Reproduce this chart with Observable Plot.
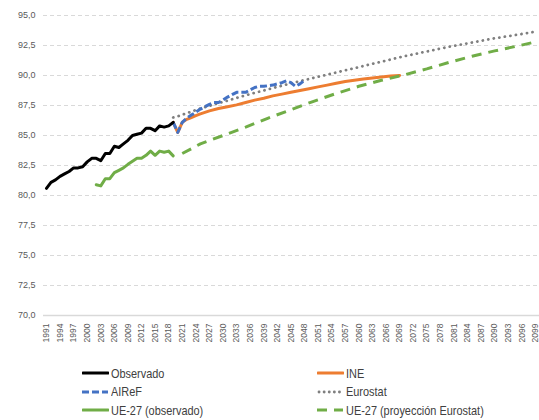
<!DOCTYPE html>
<html>
<head>
<meta charset="utf-8">
<script src="https://cdn.jsdelivr.net/npm/d3@7"></script>
<script src="https://cdn.jsdelivr.net/npm/@observablehq/plot@0.6"></script>
<style>
  html, body { margin: 0; padding: 0; background: #fff; }
  #wrap { position: relative; width: 539px; height: 420px; font-family: 'Liberation Sans Narrow', 'Liberation Sans', sans-serif; }
  #legend { position: absolute; left: 0; top: 364px; width: 539px; }
  .item { position: absolute; display: flex; align-items: center; font-size: 13px; color: #404040; height: 18px; white-space: nowrap; }
  .item svg { margin-right: 2px; flex: none; }
  .item span { display: inline-block; transform: scaleX(0.84); transform-origin: left center; }
</style>
</head>
<body>
<div id="wrap"><div id="chart"></div><div id="legend"></div></div>
<script>
// ---- Data ----
const yTicks = [70, 72.5, 75, 77.5, 80, 82.5, 85, 87.5, 90, 92.5, 95];
const xTickYears = d3.range(1991, 2100, 3);

// Observado (España), 1991-2019
const observadoStart = 1991;
const observadoValues = [80.6, 81.1, 81.3, 81.6, 81.8, 82.0, 82.3, 82.3, 82.4, 82.8,
  83.1, 83.1, 82.9, 83.5, 83.5, 84.1, 84.0, 84.3, 84.6, 85.0,
  85.1, 85.2, 85.6, 85.6, 85.4, 85.8, 85.7, 85.8, 86.1];

// AIReF, 2019-2048
const airefStart = 2019;
const airefValues = [86.1, 85.25, 86.1, 86.45, 86.7, 86.95, 87.2, 87.4, 87.6, 87.75,
  87.75, 87.95, 88.2, 88.4, 88.6, 88.6, 88.6, 88.8, 89.0, 89.1,
  89.1, 89.15, 89.2, 89.3, 89.4, 89.55, 89.4, 89.1, 89.3, 89.6];

// INE, 2019-2069
const ineYears  = [2019, 2020, 2021, 2022, 2023, 2024, 2025, 2027, 2029, 2031, 2033, 2035, 2037, 2039, 2041, 2043, 2045, 2047, 2049, 2051, 2053, 2055, 2057, 2059, 2061, 2063, 2065, 2067, 2069];
const ineValues = [86.1, 85.25, 86.1, 86.35, 86.5, 86.65, 86.8, 87.05, 87.25, 87.4, 87.55, 87.75, 87.95, 88.1, 88.3, 88.45, 88.6, 88.75, 88.9, 89.05, 89.2, 89.35, 89.5, 89.6, 89.7, 89.8, 89.88, 89.95, 90.0];

// Eurostat, 2019-2099
const eurostatYears  = [2019, 2020, 2025, 2030, 2035, 2040, 2045, 2050, 2055, 2060, 2065, 2070, 2075, 2080, 2085, 2090, 2095, 2099];
const eurostatValues = [86.5, 86.6, 87.25, 87.8, 88.35, 88.85, 89.35, 89.8, 90.25, 90.7, 91.15, 91.6, 92.0, 92.4, 92.75, 93.1, 93.4, 93.65];

// UE-27 (observado), 2002-2019
const ueObsStart = 2002;
const ueObsValues = [80.9, 80.8, 81.4, 81.4, 81.9, 82.1, 82.3, 82.6, 82.85, 83.1,
  83.1, 83.35, 83.7, 83.35, 83.7, 83.6, 83.7, 83.3];

// UE-27 (proyección Eurostat), 2021-2099
const ueProjYears  = [2021, 2025, 2030, 2035, 2040, 2045, 2050, 2055, 2060, 2065, 2070, 2075, 2080, 2085, 2090, 2095, 2099];
const ueProjValues = [83.5, 84.3, 85.0, 85.7, 86.45, 87.15, 87.85, 88.5, 89.1, 89.6, 90.05, 90.55, 91.1, 91.6, 92.05, 92.45, 92.8];

// ---- Series table ----
const fromStart = (start, vals) => vals.map((v, i) => ({year: start + i, value: v}));
const fromYears = (years, vals) => years.map((y, i) => ({year: y, value: vals[i]}));

const series = [
  {name: "Observado", data: fromStart(observadoStart, observadoValues), color: "#000000", width: 3, dash: null, cap: "round"},
  {name: "INE", data: fromYears(ineYears, ineValues), color: "#ED7D31", width: 3, dash: null, cap: "round"},
  {name: "AIReF", data: fromStart(airefStart, airefValues), color: "#4472C4", width: 3, dash: "7,3", cap: "butt"},
  {name: "Eurostat", data: fromYears(eurostatYears, eurostatValues), color: "#7F7F7F", width: 2.8, dash: "0.1,5.5", cap: "round"},
  {name: "UE-27 (observado)", data: fromStart(ueObsStart, ueObsValues), color: "#70AD47", width: 3, dash: null, cap: "round"},
  {name: "UE-27 (proyección Eurostat)", data: fromYears(ueProjYears, ueProjValues), color: "#70AD47", width: 3, dash: "10,7", cap: "butt"}
];

const drawOrder = ["Eurostat", "INE", "AIReF", "Observado", "UE-27 (observado)", "UE-27 (proyección Eurostat)"];

const lineMarks = drawOrder.map(n => {
  const s = series.find(d => d.name === n);
  const opts = {x: "year", y: "value", stroke: s.color, strokeWidth: s.width, strokeLinecap: s.cap, strokeLinejoin: "round"};
  if (s.dash) opts.strokeDasharray = s.dash;
  return Plot.line(s.data, opts);
});

const chart = Plot.plot({
  width: 539,
  height: 345,
  marginLeft: 43,
  marginRight: 0,
  marginTop: 15,
  marginBottom: 30,
  x: {domain: [1990.35, 2099.9]},
  y: {domain: [70, 95]},
  style: {fontFamily: "'Liberation Sans Narrow', 'Liberation Sans', sans-serif", color: "#595959", background: "#fff"},
  marks: [
    Plot.ruleY(yTicks.filter(d => d > 70), {stroke: "#d9d9d9", strokeWidth: 1, strokeDasharray: "4,3"}),
    Plot.ruleY([70], {stroke: "#d9d9d9", strokeWidth: 1.5}),
    Plot.axisY({ticks: yTicks, tickSize: 0, tickPadding: 8, tickFormat: d => d.toFixed(1).replace(".", ","), fontSize: 9, label: null}),
    Plot.axisX({ticks: xTickYears, tickSize: 0, tickPadding: 8, tickRotate: -90, tickFormat: d => String(d), fontSize: 8.5, label: null}),
    ...lineMarks
  ]
});
document.getElementById("chart").appendChild(chart);

// ---- Legend ----
const legendLayout = [
  {name: "Observado", left: 82, top: 0},
  {name: "INE", left: 317, top: 0},
  {name: "AIReF", left: 82, top: 18.5},
  {name: "Eurostat", left: 317, top: 18.5},
  {name: "UE-27 (observado)", left: 82, top: 37},
  {name: "UE-27 (proyección Eurostat)", left: 317, top: 37}
];
const legend = document.getElementById("legend");
for (const L of legendLayout) {
  const s = series.find(d => d.name === L.name);
  const div = document.createElement("div");
  div.className = "item";
  div.style.left = L.left + "px";
  div.style.top = L.top + "px";
  const dash = s.dash ? (s.name === "Eurostat" ? "0.1,5" : s.dash) : "none";
  div.innerHTML = `<svg width="27" height="6"><line x1="${s.cap === 'round' && !s.dash ? 1 : (s.name === 'Eurostat' ? 2 : 0)}" y1="3" x2="26" y2="3" stroke="${s.color}" stroke-width="${s.width}" stroke-dasharray="${dash}" stroke-linecap="${s.cap}"/></svg><span>${s.name}</span>`;
  legend.appendChild(div);
}
</script>
</body>
</html>
